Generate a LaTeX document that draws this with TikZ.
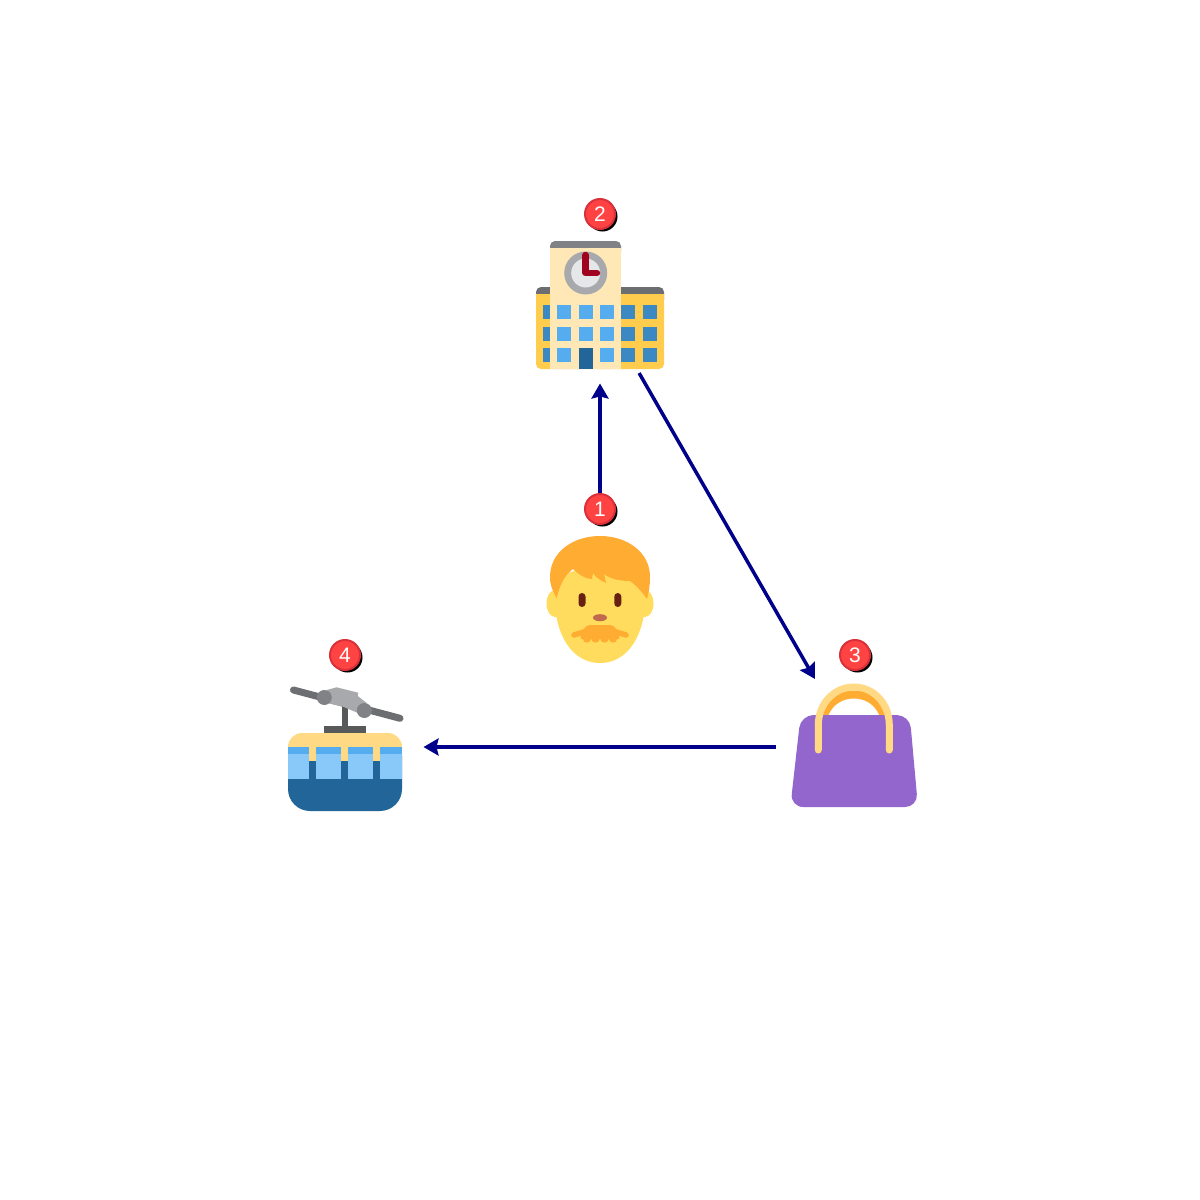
\documentclass[tikz,border=0pt]{standalone}
\usepackage{fontspec}
\setmainfont{Liberation Sans}
\usetikzlibrary{arrows.meta,shadows}

\definecolor{arrowblue}{HTML}{00008B}
\definecolor{badgered}{HTML}{FF4343}
\definecolor{badgeedge}{HTML}{D9303A}
\definecolor{windowlight}{HTML}{55ACEE}
\definecolor{windowdark}{HTML}{3B88C3}
\definecolor{doorblue}{HTML}{226699}
\definecolor{skyblue}{HTML}{88C9F9}
\definecolor{wallyellow}{HTML}{FFCC4D}
\definecolor{towercream}{HTML}{FFE8B6}
\definecolor{roofgray}{HTML}{808285}
\definecolor{roofdark}{HTML}{6D6E71}
\definecolor{clockgray}{HTML}{A7A9AC}
\definecolor{clockface}{HTML}{E6E7E8}
\definecolor{clockhand}{HTML}{A0041E}
\definecolor{skin}{HTML}{FFDC5D}
\definecolor{hair}{HTML}{FFAC33}
\definecolor{eyebrown}{HTML}{662113}
\definecolor{nosebrown}{HTML}{C1694F}
\definecolor{handle}{HTML}{FFD983}
\definecolor{bagpurple}{HTML}{9266CC}
\definecolor{hanger}{HTML}{58595B}

\tikzset{
  icon/.style={circle,minimum size=157pt,inner sep=0pt,outer sep=0pt},
  flow/.style={draw=arrowblue,line width=3.5pt,-{Stealth[length=15pt,width=17pt,inset=2pt]}},
  badge/.style={circle,minimum size=30pt,inner sep=0pt,fill=badgered,draw=badgeedge,line width=2pt,
    text=white,font=\fontsize{21}{21}\selectfont,
    drop shadow={opacity=1,shadow xshift=2.5pt,shadow yshift=-2.5pt,fill=black}}
}

\begin{document}
\begin{tikzpicture}[x=1pt,y=-1pt]
  \useasboundingbox (0,0) rectangle (1200,1200);
  \fill[white] (0,0) rectangle (1200,1200);

  \node[icon] (guest) at (600,600) {};
  \node[icon] (hotel) at (600,305) {};
  \node[icon] (bag) at (854,747) {};
  \node[icon] (cablecar) at (345,747) {};

  % hotel
  \fill[roofdark,rounded corners=5pt] (536,287) rectangle (664,305);
  \fill[wallyellow,rounded corners=5pt] (536,297) rectangle (664,369);
  \fill[wallyellow] (536,294) rectangle (664,305);
  \fill[roofgray,rounded corners=5pt] (550,241) rectangle (621,256);
  \fill[towercream] (550,248) rectangle (621,369);
  \foreach \y in {305,326.5,348} {
    \fill[windowdark] (543,\y) rectangle +(7,14);
    \fill[windowdark] (621,\y) rectangle +(14,14);
    \fill[windowdark] (642.7,\y) rectangle +(14,14);
    \fill[windowlight] (557.3,\y) rectangle +(14,14);
    \fill[windowlight] (578.7,\y) rectangle +(14,14);
    \fill[windowlight] (600,\y) rectangle +(14,14);
  }
  \fill[doorblue] (578.7,348) rectangle (592.7,369);
  \fill[clockgray] (585.7,273) circle (21.5pt);
  \fill[clockface] (585.7,273) circle (14.5pt);
  \draw[clockhand,line width=6.5pt,line cap=round,line join=round] (585.7,255) -- (585.7,273) -- (597,273);

  % guest
  \fill[skin] (555,603.5) ellipse (8.5pt and 13.5pt);
  \fill[skin] (645,603.5) ellipse (8.5pt and 13.5pt);
  \fill[skin] (554,590) .. controls (554,640) and (575,663) .. (600,663)
    .. controls (625,663) and (646,640) .. (646,590)
    .. controls (646,560) and (554,560) .. (554,590) -- cycle;
  \fill[hair] (556.7,598) .. controls (551,588) and (550,583) .. (550,577)
    .. controls (550,552) and (573,536) .. (600,536)
    .. controls (627,536) and (650,552) .. (650,577)
    .. controls (650,585) and (649,592) .. (647,599)
    .. controls (642,592) and (637,586) .. (630,581)
    .. controls (620,581) and (610,579) .. (604,574)
    -- (606,583) .. controls (602,581) and (596,578) .. (593,573)
    -- (592,579) .. controls (585,579) and (578,574) .. (573,569)
    .. controls (566,574) and (560,583) .. (556.7,598) -- cycle;
  \fill[eyebrown,rounded corners=3.5pt] (578.5,593) rectangle (585.5,607);
  \fill[eyebrown,rounded corners=3.5pt] (614.3,593) rectangle (621.3,607);
  \fill[nosebrown] (600,617.7) ellipse (7pt and 3.5pt);
  \draw[hair,line width=5.5pt,line cap=round] (574,635) -- (590,630);
  \draw[hair,line width=5.5pt,line cap=round] (626,635) -- (610,630);
  \fill[hair,rounded corners=2pt] (587,625) -- (613,625) -- (618,632) -- (620,639) -- (580,639) -- (582,632) -- cycle;
  \foreach \x in {587,595.5,604.5,613} {
    \fill[hair] (\x,638.5) circle (4.2pt);
  }

  % bag
  \draw[hair,line width=8pt] (821.5,730) .. controls (821.5,708) and (836,694.5) .. (853.8,694.5)
    .. controls (872,694.5) and (886,708) .. (886,730);
  \fill[bagpurple,rounded corners=13pt] (800.7,715) -- (909.7,715) -- (918,807) -- (790.3,807) -- cycle;
  \draw[handle,line width=7pt,line cap=round] (818.3,750) -- (818.3,725) .. controls (818.3,704) and (834,687) .. (853.8,687)
    .. controls (874,687) and (889.3,704) .. (889.3,725) -- (889.3,750);

  % cable car
  \draw[roofdark,line width=7pt,line cap=round] (293.5,690) -- (400,718.3);
  \fill[hanger] (341.7,705) rectangle (348.3,726);
  \fill[clockgray] (326.7,690) -- (336.7,687.3) -- (358.3,692.7) -- (357.7,696) -- (366.7,703)
    -- (358,713) -- (343,706.7) -- (321.7,701.7) -- cycle;
  \fill[roofgray] (324.3,697.5) circle (7.5pt);
  \fill[roofgray] (364.3,710.5) circle (7.5pt);
  \fill[hanger] (323.7,725.5) rectangle (366.3,733);
  \fill[doorblue,rounded corners=22pt] (288,733) rectangle (402,811);
  \fill[handle,rounded corners=14pt] (288,733) rectangle (402,775);
  \fill[doorblue] (309,761) rectangle (381,779);
  \foreach \xa/\xb in {288/309.3,316.3/341.3,348.3/373.3,380.3/402} {
    \fill[windowlight] (\xa,747) rectangle (\xb,754);
    \fill[skyblue] (\xa,754) rectangle (\xb,779);
  }

  \draw[flow] (guest) -- (hotel);
  \draw[flow] (hotel) -- (bag);
  \draw[flow] (bag) -- (cablecar);

  \node[badge] (badge1) at (600,509) {1};
  \node[badge] (badge2) at (600,214) {2};
  \node[badge] (badge3) at (855,655) {3};
  \node[badge] (badge4) at (345,655) {4};
\end{tikzpicture}
\end{document}
